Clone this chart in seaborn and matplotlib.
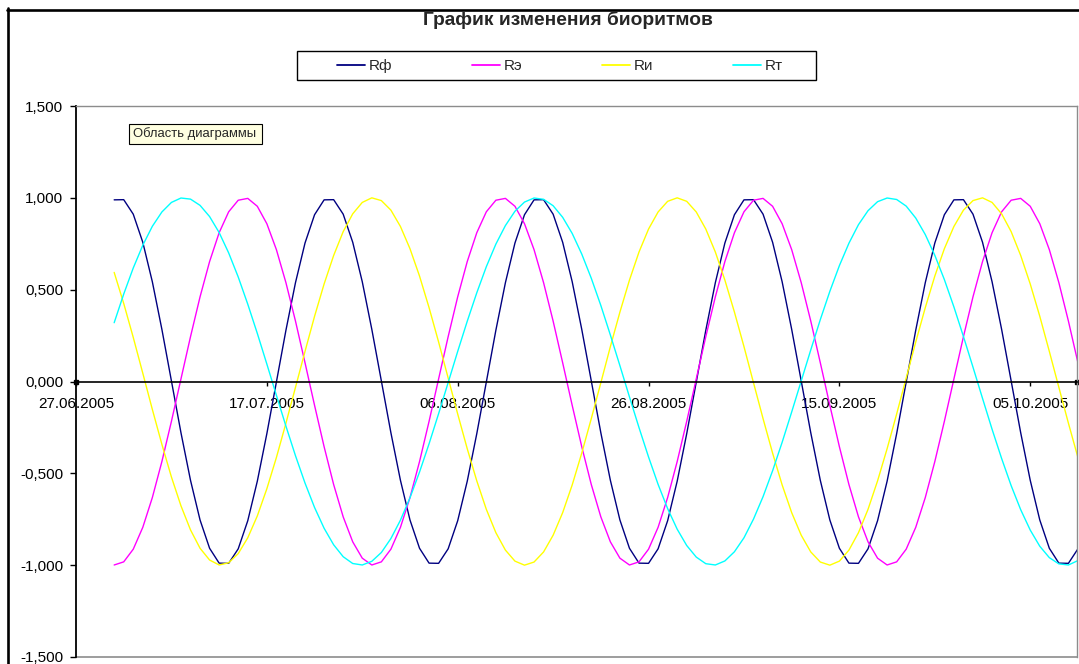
import numpy as np
import pandas as pd
import matplotlib
matplotlib.use("Agg")
import matplotlib.pyplot as plt
from matplotlib.lines import Line2D
from matplotlib.patches import Rectangle
from matplotlib.ticker import FixedLocator, FuncFormatter
import seaborn as sns

# ---------------------------------------------------------------- data
title = "График изменения биоритмов"
series_names = ["Rф", "Rэ", "Rи", "Rт"]
series_colors = ["#000080", "#FF00FF", "#FFFF00", "#00FFFF"]

first_date = "2005-07-01"          # one value per day from this date on
axis_start = "2005-06-27"
axis_days = 104.9
tick_labels = ["27.06.2005", "17.07.2005", "06.08.2005",
               "26.08.2005", "15.09.2005", "05.10.2005"]
y_ticks = [-1.5, -1.0, -0.5, 0.0, 0.5, 1.0, 1.5]
grid_levels = [-1.0, -0.5, 0.5, 1.0]

r_f = [
    0.989, 0.990, 0.911, 0.758, 0.543, 0.284, 0.003, -0.279, -0.538, -0.754, -0.908,
    -0.989, -0.990, -0.911, -0.758, -0.543, -0.284, -0.003, 0.279, 0.538, 0.754, 0.908,
    0.989, 0.990, 0.911, 0.758, 0.543, 0.284, 0.003, -0.279, -0.538, -0.754, -0.908,
    -0.989, -0.990, -0.911, -0.758, -0.543, -0.284, -0.003, 0.279, 0.538, 0.754, 0.908,
    0.989, 0.990, 0.911, 0.758, 0.543, 0.284, 0.003, -0.279, -0.538, -0.754, -0.908,
    -0.989, -0.990, -0.911, -0.758, -0.543, -0.284, -0.003, 0.279, 0.538, 0.754, 0.908,
    0.989, 0.990, 0.911, 0.758, 0.543, 0.284, 0.003, -0.279, -0.538, -0.754, -0.908,
    -0.989, -0.990, -0.911, -0.758, -0.543, -0.284, -0.003, 0.279, 0.538, 0.754, 0.908,
    0.989, 0.990, 0.911, 0.758, 0.543, 0.284, 0.003, -0.279, -0.538, -0.754, -0.908,
    -0.989, -0.990, -0.911,
]

r_e = [
    -0.999, -0.982, -0.913, -0.794, -0.632, -0.436, -0.217, 0.014, 0.244, 0.461,
    0.653, 0.810, 0.924, 0.987, 0.997, 0.954, 0.859, 0.718, 0.538, 0.329,
    0.102, -0.130, -0.355, -0.561, -0.737, -0.873, -0.962,
    -0.999, -0.982, -0.913, -0.794, -0.632, -0.436, -0.217, 0.014, 0.244, 0.461,
    0.653, 0.810, 0.924, 0.987, 0.997, 0.954, 0.859, 0.718, 0.538, 0.329,
    0.102, -0.130, -0.355, -0.561, -0.737, -0.873, -0.962,
    -0.999, -0.982, -0.913, -0.794, -0.632, -0.436, -0.217, 0.014, 0.244, 0.461,
    0.653, 0.810, 0.924, 0.987, 0.997, 0.954, 0.859, 0.718, 0.538, 0.329,
    0.102, -0.130, -0.355, -0.561, -0.737, -0.873, -0.962,
    -0.999, -0.982, -0.913, -0.794, -0.632, -0.436, -0.217, 0.014, 0.244, 0.461,
    0.653, 0.810, 0.924, 0.987, 0.997, 0.954, 0.859, 0.718, 0.538, 0.329,
    0.102,
]

r_i = [
    0.594, 0.425, 0.240, 0.045, -0.152, -0.342, -0.520, -0.677, -0.808, -0.908,
    -0.972, -0.999, -0.987, -0.937, -0.851, -0.732, -0.584, -0.414, -0.227, -0.032,
    0.164, 0.355, 0.531, 0.686, 0.816, 0.913, 0.975, 1.000, 0.985, 0.933,
    0.844, 0.723, 0.574, 0.402, 0.215, 0.019, -0.177, -0.366, -0.541, -0.696,
    -0.823, -0.918, -0.978, -1.000, -0.983, -0.928, -0.837, -0.714, -0.563, -0.390,
    -0.202, -0.007, 0.190, 0.378, 0.552, 0.705, 0.830, 0.923, 0.981, 1.000,
    0.981, 0.923, 0.830, 0.705, 0.552, 0.378, 0.190, -0.007, -0.202, -0.390,
    -0.563, -0.714, -0.837, -0.928, -0.983, -1.000, -0.978, -0.918, -0.823, -0.696,
    -0.541, -0.366, -0.177, 0.019, 0.215, 0.402, 0.574, 0.723, 0.844, 0.933,
    0.985, 1.000, 0.975, 0.913, 0.816, 0.686, 0.531, 0.355, 0.164, -0.032,
    -0.227, -0.414,
]

r_t = [
    0.320, 0.476, 0.618, 0.742, 0.845, 0.923, 0.975, 0.999, 0.993, 0.959,
    0.898, 0.811, 0.700, 0.569, 0.421, 0.262, 0.095, -0.075, -0.243, -0.404,
    -0.553, -0.686, -0.799, -0.889, -0.954, -0.991, -0.999, -0.979, -0.931, -0.855,
    -0.755, -0.633, -0.493, -0.339, -0.175, -0.006, 0.164, 0.328, 0.483, 0.625,
    0.748, 0.849, 0.927, 0.977, 0.999, 0.992, 0.957, 0.894, 0.806, 0.694,
    0.562, 0.414, 0.253, 0.086, -0.084, -0.251, -0.411, -0.560, -0.692, -0.804,
    -0.893, -0.956, -0.992, -0.999, -0.977, -0.927, -0.851, -0.749, -0.627, -0.486,
    -0.331, -0.166, 0.003, 0.172, 0.337, 0.491, 0.631, 0.753, 0.854, 0.930,
    0.979, 0.999, 0.991, 0.955, 0.890, 0.800, 0.687, 0.555, 0.406, 0.245,
    0.078, -0.092, -0.260, -0.419, -0.567, -0.698, -0.809, -0.897, -0.959, -0.993,
    -0.999, -0.975,
]

# ---------------------------------------------------------------- frame
W, H = 1079, 664
sns.set_style("white")
plt.rcParams["font.family"] = ["Liberation Sans", "DejaVu Sans"]
plt.rcParams["axes.unicode_minus"] = False

dates = pd.date_range(first_date, periods=len(r_f), freq="D")
df = pd.DataFrame({"Дата": dates, "Rф": r_f, "Rэ": r_e, "Rи": r_i, "Rт": r_t})
long_df = df.melt(id_vars="Дата", var_name="Ритм", value_name="Значение")

fig = plt.figure(figsize=(W / 100, H / 100), dpi=100)
fig.patch.set_facecolor("white")

# plot area in pixel terms: left 76, right 1077, top 106, bottom 657
ax = fig.add_axes([76 / W, (H - 657) / H, 1001 / W, 551 / H])
ax.set_facecolor("white")

sns.lineplot(
    data=long_df, x="Дата", y="Значение", hue="Ритм",
    hue_order=series_names,
    palette=dict(zip(series_names, series_colors)),
    linewidth=1.0, estimator=None, legend=False, ax=ax,
)

x0 = pd.Timestamp(axis_start)
ax.set_xlim(x0, x0 + pd.Timedelta(days=axis_days))
ax.set_ylim(y_ticks[0], y_ticks[-1])
ax.set_xlabel("")
ax.set_ylabel("")

# date ticks along the zero line
tick_pos = pd.to_datetime(tick_labels, format="%d.%m.%Y")
ax.set_xticks(tick_pos)
ax.set_xticklabels(tick_labels)

ax.yaxis.set_major_locator(FixedLocator(y_ticks))
ax.yaxis.set_major_formatter(
    FuncFormatter(lambda v, _: f"{v:.3f}".replace(".", ",")))

# horizontal grid lines
ax.yaxis.set_minor_locator(FixedLocator(grid_levels))
ax.grid(which="minor", axis="y", color="black", linewidth=0.9)
ax.set_axisbelow(True)

ax.tick_params(axis="y", which="major", direction="out", length=4, width=1,
               pad=5, labelsize=11, colors="black", left=True)
ax.tick_params(axis="y", which="minor", length=0)
ax.tick_params(axis="x", which="major", direction="out", length=3, width=1,
               pad=8, labelsize=11, colors="black", bottom=True)

for s in ("top", "right"):
    ax.spines[s].set_color("#8c8c8c")
    ax.spines[s].set_linewidth(1.0)
ax.spines["left"].set_color("black")
ax.spines["left"].set_linewidth(1.3)
ax.spines["bottom"].set_position(("data", 0))
ax.spines["bottom"].set_color("black")
ax.spines["bottom"].set_linewidth(1.2)

# lower edge of the plot area
ax.add_patch(Rectangle((0, 0), 1, 0.0001, transform=ax.transAxes,
                       fill=False, edgecolor="#8c8c8c", linewidth=1.2,
                       clip_on=False))

# handles at both ends of the category axis
ax.plot([0, 1], [0.5, 0.5], "s", transform=ax.transAxes, color="black",
        markersize=3.5, clip_on=False)

# title
fig.text(568 / W, 1 - 25 / H, title, ha="center", va="baseline",
         fontsize=13.8, fontweight="bold")

# legend in a rectangular frame above the plot
handles = [Line2D([], [], color=c, linewidth=1.3) for c in series_colors]
fig.legend(handles, series_names, loc="center",
           bbox_to_anchor=(560 / W, 1 - 66 / H), ncol=4, frameon=False,
           fontsize=11, handlelength=1.85, handletextpad=0.25,
           columnspacing=5.2)
fig.add_artist(Rectangle((297 / W, 1 - 80 / H), (816 - 297) / W, 29 / H,
                         transform=fig.transFigure, fill=False,
                         edgecolor="black", linewidth=1.0))

# chart-area hint: pale yellow box with its caption
fig.add_artist(Rectangle((129 / W, 1 - 144 / H), (262 - 129) / W, 20 / H,
                         transform=fig.transFigure, facecolor="#FFFFE1",
                         edgecolor="black", linewidth=0.8, zorder=5))
fig.text(133 / W, 1 - 134 / H, "Область диаграммы", ha="left", va="center",
         fontsize=9.4, zorder=6)

# chart-area border
fig.add_artist(Line2D([8 / W, 8 / W], [0, 1 - 8 / H], transform=fig.transFigure,
                      color="black", linewidth=1.9))
fig.add_artist(Line2D([7 / W, 1], [1 - 9.5 / H, 1 - 9.5 / H],
                      transform=fig.transFigure, color="black", linewidth=1.9))

fig.savefig("out.png", dpi=100)
